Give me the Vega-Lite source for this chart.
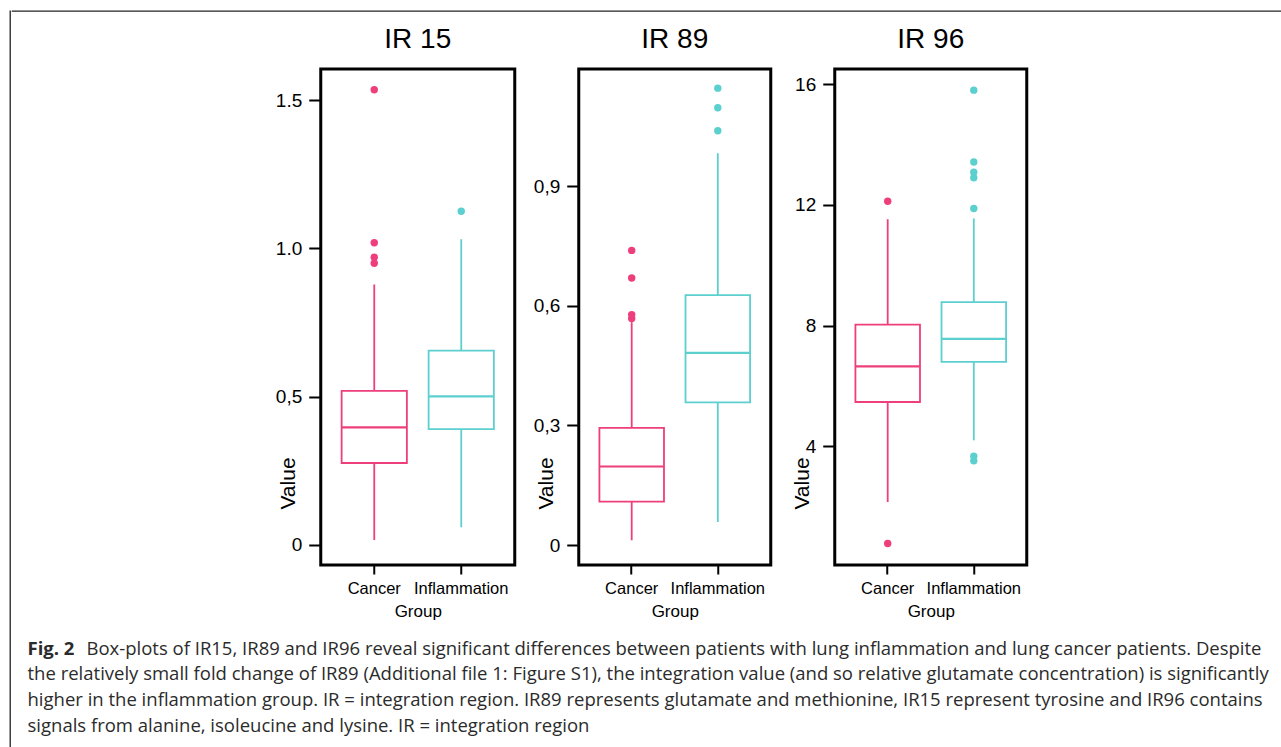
{
  "$schema": "https://vega.github.io/schema/vega-lite/v6.json",
  "background": "white",
  "padding": {"left": 9, "top": 10, "right": 0, "bottom": 0},
  "datasets": {
    "ir15_box": [
      {"group": "Cancer", "lower": 0.016, "q1": 0.276, "median": 0.396, "q3": 0.519, "upper": 0.878},
      {"group": "Inflammation", "lower": 0.059, "q1": 0.390, "median": 0.501, "q3": 0.655, "upper": 1.031}
    ],
    "ir15_out": [
      {"group": "Cancer", "value": 0.950},
      {"group": "Cancer", "value": 0.970},
      {"group": "Cancer", "value": 1.019},
      {"group": "Cancer", "value": 1.535},
      {"group": "Inflammation", "value": 1.125}
    ],
    "ir89_box": [
      {"group": "Cancer", "lower": 0.012, "q1": 0.109, "median": 0.197, "q3": 0.294, "upper": 0.559},
      {"group": "Inflammation", "lower": 0.058, "q1": 0.358, "median": 0.482, "q3": 0.627, "upper": 0.983}
    ],
    "ir89_out": [
      {"group": "Cancer", "value": 0.568},
      {"group": "Cancer", "value": 0.578},
      {"group": "Cancer", "value": 0.670},
      {"group": "Cancer", "value": 0.739},
      {"group": "Inflammation", "value": 1.039},
      {"group": "Inflammation", "value": 1.097},
      {"group": "Inflammation", "value": 1.146}
    ],
    "ir96_box": [
      {"group": "Cancer", "lower": 2.16, "q1": 5.47, "median": 6.65, "q3": 8.03, "upper": 11.52},
      {"group": "Inflammation", "lower": 4.2, "q1": 6.8, "median": 7.56, "q3": 8.78, "upper": 11.55}
    ],
    "ir96_out": [
      {"group": "Cancer", "value": 12.12},
      {"group": "Cancer", "value": 0.78},
      {"group": "Inflammation", "value": 3.52},
      {"group": "Inflammation", "value": 3.67},
      {"group": "Inflammation", "value": 11.88},
      {"group": "Inflammation", "value": 12.9},
      {"group": "Inflammation", "value": 13.08},
      {"group": "Inflammation", "value": 13.42},
      {"group": "Inflammation", "value": 15.8}
    ]
  },
  "hconcat": [
    {
      "width": 0.01,
      "height": 738,
      "data": {"values": []},
      "mark": "point",
      "view": {"stroke": "#222222", "strokeWidth": 1.3}
    },
    {
      "vconcat": [
        {
          "width": 1324,
          "height": 0.01,
          "data": {"values": []},
          "mark": "point",
          "view": {"stroke": "#222222", "strokeWidth": 1.3}
        },
        {
          "hconcat": [
            {
              "width": 194,
              "height": 496,
              "title": {"text": "IR 15"},
              "layer": [
                {
                  "data": {"name": "ir15_box"},
                  "mark": {"type": "rule", "strokeWidth": 1.8},
                  "encoding": {
                    "x": {"field": "group", "type": "nominal", "title": "Group", "scale": {"paddingInner": 0.25, "paddingOuter": 0.24}},
                    "y": {"field": "lower", "type": "quantitative", "title": "Value", "scale": {"domain": [-0.068, 1.605], "nice": false, "zero": false},
                          "axis": {"values": [0, 0.5, 1, 1.5], "labelExpr": "datum.value == 0 ? '0' : datum.value == 0.5 ? '0,5' : format(datum.value, '.1f')"}},
                    "y2": {"field": "upper"},
                    "color": {"field": "group", "type": "nominal", "scale": {"domain": ["Cancer", "Inflammation"], "range": ["#EE3E7B", "#5CCFCF"]}, "legend": null}
                  }
                },
                {
                  "data": {"name": "ir15_box"},
                  "mark": {"type": "bar", "fill": "white", "strokeWidth": 1.8},
                  "encoding": {
                    "x": {"field": "group", "type": "nominal"},
                    "y": {"field": "q1", "type": "quantitative"},
                    "y2": {"field": "q3"},
                    "stroke": {"field": "group", "type": "nominal", "scale": {"domain": ["Cancer", "Inflammation"], "range": ["#EE3E7B", "#5CCFCF"]}, "legend": null}
                  }
                },
                {
                  "data": {"name": "ir15_box"},
                  "mark": {"type": "tick", "size": 65, "thickness": 2.2, "opacity": 1},
                  "encoding": {
                    "x": {"field": "group", "type": "nominal"},
                    "y": {"field": "median", "type": "quantitative"},
                    "color": {"field": "group", "type": "nominal", "legend": null}
                  }
                },
                {
                  "data": {"name": "ir15_out"},
                  "mark": {"type": "circle", "size": 55, "opacity": 1},
                  "encoding": {
                    "x": {"field": "group", "type": "nominal"},
                    "y": {"field": "value", "type": "quantitative"},
                    "color": {"field": "group", "type": "nominal", "legend": null}
                  }
                }
              ]
            },
            {
              "width": 192,
              "height": 496,
              "title": {"text": "IR 89"},
              "layer": [
                {
                  "data": {"name": "ir89_box"},
                  "mark": {"type": "rule", "strokeWidth": 1.8},
                  "encoding": {
                    "x": {"field": "group", "type": "nominal", "title": "Group", "scale": {"paddingInner": 0.25, "paddingOuter": 0.24}},
                    "y": {"field": "lower", "type": "quantitative", "title": "Value", "scale": {"domain": [-0.05, 1.194], "nice": false, "zero": false},
                          "axis": {"values": [0, 0.3, 0.6, 0.9], "labelExpr": "datum.value == 0 ? '0' : replace(format(datum.value, '.1f'), '.', ',')"}},
                    "y2": {"field": "upper"},
                    "color": {"field": "group", "type": "nominal", "scale": {"domain": ["Cancer", "Inflammation"], "range": ["#EE3E7B", "#5CCFCF"]}, "legend": null}
                  }
                },
                {
                  "data": {"name": "ir89_box"},
                  "mark": {"type": "bar", "fill": "white", "strokeWidth": 1.8},
                  "encoding": {
                    "x": {"field": "group", "type": "nominal"},
                    "y": {"field": "q1", "type": "quantitative"},
                    "y2": {"field": "q3"},
                    "stroke": {"field": "group", "type": "nominal", "scale": {"domain": ["Cancer", "Inflammation"], "range": ["#EE3E7B", "#5CCFCF"]}, "legend": null}
                  }
                },
                {
                  "data": {"name": "ir89_box"},
                  "mark": {"type": "tick", "size": 64, "thickness": 2.2, "opacity": 1},
                  "encoding": {
                    "x": {"field": "group", "type": "nominal"},
                    "y": {"field": "median", "type": "quantitative"},
                    "color": {"field": "group", "type": "nominal", "legend": null}
                  }
                },
                {
                  "data": {"name": "ir89_out"},
                  "mark": {"type": "circle", "size": 55, "opacity": 1},
                  "encoding": {
                    "x": {"field": "group", "type": "nominal"},
                    "y": {"field": "value", "type": "quantitative"},
                    "color": {"field": "group", "type": "nominal", "legend": null}
                  }
                }
              ]
            },
            {
              "width": 192,
              "height": 496,
              "title": {"text": "IR 96"},
              "layer": [
                {
                  "data": {"name": "ir96_box"},
                  "mark": {"type": "rule", "strokeWidth": 1.8},
                  "encoding": {
                    "x": {"field": "group", "type": "nominal", "title": "Group", "scale": {"paddingInner": 0.25, "paddingOuter": 0.24}},
                    "y": {"field": "lower", "type": "quantitative", "title": "Value", "scale": {"domain": [0.07, 16.5], "nice": false, "zero": false},
                          "axis": {"values": [4, 8, 12, 16], "format": "d"}},
                    "y2": {"field": "upper"},
                    "color": {"field": "group", "type": "nominal", "scale": {"domain": ["Cancer", "Inflammation"], "range": ["#EE3E7B", "#5CCFCF"]}, "legend": null}
                  }
                },
                {
                  "data": {"name": "ir96_box"},
                  "mark": {"type": "bar", "fill": "white", "strokeWidth": 1.8},
                  "encoding": {
                    "x": {"field": "group", "type": "nominal"},
                    "y": {"field": "q1", "type": "quantitative"},
                    "y2": {"field": "q3"},
                    "stroke": {"field": "group", "type": "nominal", "scale": {"domain": ["Cancer", "Inflammation"], "range": ["#EE3E7B", "#5CCFCF"]}, "legend": null}
                  }
                },
                {
                  "data": {"name": "ir96_box"},
                  "mark": {"type": "tick", "size": 64, "thickness": 2.2, "opacity": 1},
                  "encoding": {
                    "x": {"field": "group", "type": "nominal"},
                    "y": {"field": "median", "type": "quantitative"},
                    "color": {"field": "group", "type": "nominal", "legend": null}
                  }
                },
                {
                  "data": {"name": "ir96_out"},
                  "mark": {"type": "circle", "size": 55, "opacity": 1},
                  "encoding": {
                    "x": {"field": "group", "type": "nominal"},
                    "y": {"field": "value", "type": "quantitative"},
                    "color": {"field": "group", "type": "nominal", "legend": null}
                  }
                }
              ]
            }
          ],
          "spacing": 64,
          "bounds": "flush"
        },
        {
          "width": 1324,
          "height": 100,
          "view": {"stroke": null},
          "layer": [
            {
              "data": {"values": [
                {"line": 2, "text": "the relatively small fold change of IR89 (Additional file 1: Figure S1), the integration value (and so relative glutamate concentration) is significantly"},
                {"line": 3, "text": "higher in the inflammation group. IR = integration region. IR89 represents glutamate and methionine, IR15 represent tyrosine and IR96 contains"},
                {"line": 4, "text": "signals from alanine, isoleucine and lysine. IR = integration region"}
              ]},
              "mark": {"type": "text", "align": "left", "baseline": "middle", "dx": 15, "font": "Open Sans", "fontSize": 18.5, "color": "#2b2b2b"},
              "encoding": {
                "x": {"datum": 0, "type": "quantitative", "scale": {"domain": [0, 1]}, "axis": null},
                "y": {"field": "line", "type": "ordinal", "scale": {"type": "point", "domain": [1, 2, 3, 4], "range": [15.5, 92.5], "padding": 0}, "axis": null},
                "text": {"field": "text"}
              }
            },
            {
              "data": {"values": [{"line": 1, "text": "Fig. 2"}]},
              "mark": {"type": "text", "align": "left", "baseline": "middle", "dx": 15, "font": "Open Sans", "fontSize": 18.5, "fontWeight": "bold", "color": "#2b2b2b"},
              "encoding": {
                "x": {"datum": 0, "type": "quantitative", "scale": {"domain": [0, 1]}, "axis": null},
                "y": {"field": "line", "type": "ordinal", "scale": {"type": "point", "domain": [1, 2, 3, 4], "range": [15.5, 92.5], "padding": 0}, "axis": null},
                "text": {"field": "text"}
              }
            },
            {
              "data": {"values": [{"line": 1, "text": "Box-plots of IR15, IR89 and IR96 reveal significant differences between patients with lung inflammation and lung cancer patients. Despite"}]},
              "mark": {"type": "text", "align": "left", "baseline": "middle", "dx": 74, "font": "Open Sans", "fontSize": 18.5, "color": "#2b2b2b"},
              "encoding": {
                "x": {"datum": 0, "type": "quantitative", "scale": {"domain": [0, 1]}, "axis": null},
                "y": {"field": "line", "type": "ordinal", "scale": {"type": "point", "domain": [1, 2, 3, 4], "range": [15.5, 92.5], "padding": 0}, "axis": null},
                "text": {"field": "text"}
              }
            }
          ]
        }
      ],
      "spacing": 12,
      "center": true
    }
  ],
  "spacing": 0,
  "config": {
    "font": "Liberation Sans",
    "view": {"stroke": "black", "strokeWidth": 3},
    "title": {"fontSize": 28, "fontWeight": "normal", "color": "black", "offset": 15, "anchor": "middle"},
    "axis": {"grid": false, "domain": false, "tickColor": "black", "tickWidth": 2, "labelColor": "black", "titleColor": "black", "titleFontWeight": "normal", "labelFont": "Liberation Sans", "titleFont": "Liberation Sans"},
    "axisY": {"tickSize": 12, "labelFontSize": 19, "labelPadding": 7, "titleFontSize": 21, "titleAngle": 270, "titleX": -32.5, "titleY": 414, "titleAlign": "center", "titleBaseline": "middle"},
    "axisX": {"tickSize": 9, "labelFontSize": 16.5, "labelPadding": 6, "labelAngle": 0, "titleFontSize": 17, "titlePadding": 7}
  }
}
